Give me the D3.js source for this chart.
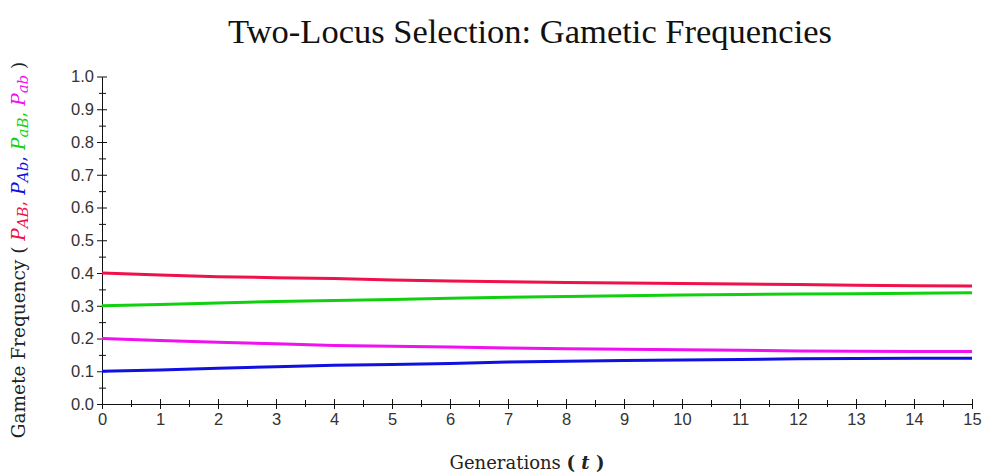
<!DOCTYPE html>
<html>
<head>
<meta charset="utf-8">
<script src="https://cdn.jsdelivr.net/npm/d3@7"></script>
<style>
  body { margin: 0; background: #fff; }
  svg { display: block; }
  .tick text { font-family: "Liberation Sans", Arial, sans-serif; fill: #333; }
</style>
</head>
<body>
<div id="chart"></div>
<script>
// Generations and gamete frequencies
const generations = [0, 1, 2, 3, 4, 5, 6, 7, 8, 9, 10, 11, 12, 13, 14, 15];
const pAB = [0.400, 0.3936, 0.3887, 0.3856, 0.3831, 0.3789, 0.3757, 0.3731, 0.3712, 0.3696, 0.3679, 0.3663, 0.3646, 0.3629, 0.3612, 0.3600];
const pAb = [0.100, 0.1039, 0.1088, 0.1138, 0.1182, 0.1207, 0.1235, 0.1281, 0.1306, 0.1331, 0.1346, 0.1359, 0.1381, 0.1388, 0.1394, 0.1400];
const paB = [0.300, 0.3040, 0.3087, 0.3131, 0.3157, 0.3188, 0.3232, 0.3256, 0.3281, 0.3306, 0.3328, 0.3344, 0.3359, 0.3366, 0.3381, 0.3400];
const pab = [0.200, 0.1939, 0.1889, 0.1837, 0.1788, 0.1763, 0.1739, 0.1713, 0.1688, 0.1672, 0.1656, 0.1640, 0.1618, 0.1610, 0.1605, 0.1600];

const yTicks = [0, 0.1, 0.2, 0.3, 0.4, 0.5, 0.6, 0.7, 0.8, 0.9, 1.0];

const series = [
    { name: "AB", values: pAB, color: "#f0104a" },
    { name: "Ab", values: pAb, color: "#1010e0" },
    { name: "aB", values: paB, color: "#10d010" },
    { name: "ab", values: pab, color: "#f010f0" }
];

const W = 985, H = 474;
const margin = { top: 76.5, right: 13, bottom: 70, left: 102 };
const width = W - margin.left - margin.right;
const height = H - margin.top - margin.bottom;

const svg = d3.select("#chart").append("svg")
    .attr("width", W)
    .attr("height", H);

const g = svg.append("g")
    .attr("transform", `translate(${margin.left},${margin.top})`);

const x = d3.scaleLinear().domain([0, 15]).range([0, width]);
const y = d3.scaleLinear().domain([0, 1]).range([height, 0]);

// minor ticks (half steps), both sides of the axis line
const xMinor = d3.range(0.5, 15, 1);
const yMinor = d3.range(0.05, 1, 0.1);

g.append("g")
    .attr("transform", `translate(0,${height})`)
    .call(d3.axisBottom(x).tickValues(generations).tickSize(5).tickSizeOuter(0).tickPadding(4))
    .call(a => a.selectAll("text").style("font-size", "16.5px"));
g.append("g")
    .attr("transform", `translate(0,${height})`)
    .call(d3.axisTop(x).tickValues(generations).tickSize(5).tickSizeOuter(0).tickFormat(""))
    .call(a => a.select(".domain").remove());
g.append("g")
    .attr("transform", `translate(0,${height})`)
    .call(d3.axisTop(x).tickValues(xMinor).tickSize(4).tickFormat(""))
    .call(a => a.select(".domain").remove());
g.append("g")
    .attr("transform", `translate(0,${height})`)
    .call(d3.axisBottom(x).tickValues(xMinor).tickSize(3).tickFormat(""))
    .call(a => a.select(".domain").remove());

g.append("g")
    .call(d3.axisLeft(y).tickValues(yTicks).tickSize(5).tickSizeOuter(0).tickPadding(3).tickFormat(d3.format(".1f")))
    .call(a => a.selectAll("text").style("font-size", "16.5px"));
g.append("g")
    .call(d3.axisRight(y).tickValues(yTicks).tickSize(5).tickFormat(""))
    .call(a => a.select(".domain").remove());
g.append("g")
    .call(d3.axisRight(y).tickValues(yMinor).tickSize(4).tickFormat(""))
    .call(a => a.select(".domain").remove());
g.append("g")
    .call(d3.axisLeft(y).tickValues(yMinor).tickSize(3).tickFormat(""))
    .call(a => a.select(".domain").remove());

g.selectAll(".domain, .tick line").attr("stroke", "#111");

const line = d3.line()
    .x((d, i) => x(generations[i]))
    .y(d => y(d));

g.selectAll(".series")
    .data(series)
    .join("path")
    .attr("class", "series")
    .attr("fill", "none")
    .attr("stroke", d => d.color)
    .attr("stroke-width", 3)
    .attr("d", d => line(d.values));

// title
svg.append("text")
    .attr("x", 530)
    .attr("y", 43)
    .attr("text-anchor", "middle")
    .style("font-family", "'Liberation Serif', 'Times New Roman', serif")
    .style("font-size", "34.5px")
    .attr("fill", "#111")
    .text("Two-Locus Selection: Gametic Frequencies");

// x axis title
const xt = svg.append("text")
    .attr("x", 527)
    .attr("y", 469)
    .attr("text-anchor", "middle")
    .style("font-family", "'DejaVu Serif', serif")
    .style("font-size", "18px")
    .attr("fill", "#222");
xt.append("tspan").text("Generations ");
xt.append("tspan").style("font-weight", "bold").text("( ");
xt.append("tspan").style("font-weight", "bold").style("font-style", "italic").text("t");
xt.append("tspan").style("font-weight", "bold").text(" )");

// y axis title with coloured gamete symbols
const yt = svg.append("text")
    .attr("transform", "translate(25,250) rotate(-90)")
    .attr("text-anchor", "middle")
    .style("font-family", "'DejaVu Serif', serif")
    .style("font-size", "18.5px")
    .attr("fill", "#222");
yt.append("tspan").text("Gamete Frequency ( ");
series.forEach((s, i) => {
    yt.append("tspan").attr("fill", s.color).style("font-style", "italic").text("P");
    yt.append("tspan").attr("fill", s.color).style("font-style", "italic")
        .style("font-size", "15px").attr("dy", 3).text(s.name);
    yt.append("tspan").attr("fill", s.color).attr("dy", -3).text(i < series.length - 1 ? ", " : " ");
});
yt.append("tspan").text(")");
</script>
</body>
</html>
